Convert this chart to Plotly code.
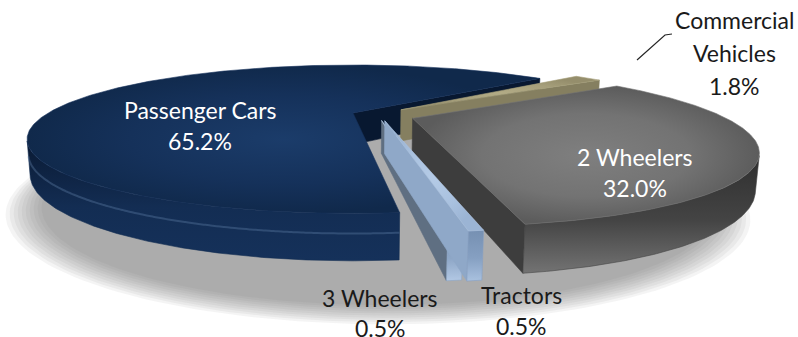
import numpy as np
import plotly.graph_objects as go

# ---------------------------------------------------------------- data
categories = ["Passenger Cars", "Commercial Vehicles", "2 Wheelers", "Tractors", "3 Wheelers"]
shares = [65.2, 1.8, 32.0, 0.5, 0.5]          # percent of total, clockwise order
label_lines = {
    "Passenger Cars": ["Passenger Cars"],
    "Commercial Vehicles": ["Commercial", "Vehicles"],
    "2 Wheelers": ["2 Wheelers"],
    "Tractors": ["Tractors"],
    "3 Wheelers": ["3 Wheelers"],
}
title_text = "es 2015: 2,072,390"

# ---------------------------------------------------------------- styling
W, H = 798, 337
FONT = "Lato"

# how far each slice is pulled out of the pie (disk units, x right / y away)
explode = {
    "Passenger Cars": (0.0, 0.0),
    "Commercial Vehicles": (0.16, 0.05),
    "2 Wheelers": (0.19, -0.08),
    "Tractors": (0.10, -0.115),
    "3 Wheelers": (0.09, -0.11),
}
palette = {
    "Passenger Cars":      dict(top="#15315a", c0="#1b3c6a", c1="#10294b", side="#132d53", low="#0a1a33",
                                wall="#081830", rim="rgba(95,125,165,0.38)"),
    "Commercial Vehicles": dict(top="#a69f7b", c0="#b2ab86", c1="#958e6c", side="#8a8464", low="#77714f",
                                wall="#857f60", rim=None),
    "2 Wheelers":          dict(top="#737373", c0="#7f7f7f", c1="#5c5c5c", side="#444444", low="#2f2f2f",
                                wall="#3d3d3d", rim=None),
    "Tractors":            dict(top="#a9c1df", c0="#b5cbe6", c1="#9bb4d4", side="#86a0c2", low="#7690b2",
                                wall="#8fa8c8", rim=None),
    "3 Wheelers":          dict(top="#b2c8e4", c0="#bcd0ea", c1="#a3bbda", side="#8da6c6", low="#7a94b6",
                                wall="#5f6f82", rim=None),
}
label_pos = {   # centre x, first-line y, line step (pixels), colour
    "Passenger Cars": (200, 110, 31, "white"),
    "Commercial Vehicles": (734, 20, 33, "#1a1a1a"),
    "2 Wheelers": (635, 157, 31, "white"),
    "Tractors": (521, 295, 31, "#1a1a1a"),
    "3 Wheelers": (380, 298, 30, "#1a1a1a"),
}

# ---------------------------------------------------------------- camera
PHI = np.radians(12.3)      # elevation of the viewpoint
DIST = 2.765                # camera distance in pie radii
SCALE = 843.0
CX, CY = 353.0, 113.0       # where the pie centre lands on the page
THICK = 0.107
START = 275.7               # angle (deg, counter-clockwise from +x) where the first slice begins
cphi, sphi = np.cos(PHI), np.sin(PHI)
CAM = np.array([0.0, -DIST * cphi, DIST * sphi])


def proj(X, Y, Z):
    X = np.asarray(X, float)
    Y = np.asarray(Y, float)
    Z = np.asarray(Z, float) + 0 * X
    depth = Y * cphi + DIST - Z * sphi
    up = Y * sphi + Z * cphi
    return CX + SCALE * X / depth, CY - SCALE * up / depth


def poly(xs, ys, color, grad=None):
    xs = np.append(xs, xs[0])
    ys = np.append(ys, ys[0])
    tr = go.Scatter(x=xs, y=ys, mode="lines", fill="toself", fillcolor=color,
                    line=dict(width=0.6, color=color), hoverinfo="skip", showlegend=False)
    if grad is not None:
        tr.update(fillgradient=grad)
    return tr


traces = []

# soft floor shadow, built from stacked translucent disks
ZSH = -0.2
t = np.linspace(0, 2 * np.pi, 240)
for r in np.linspace(1.04, 0.95, 10):
    sx, sy = proj(0.07 + 1.08 * r * np.cos(t), -0.07 + r * np.sin(t), ZSH)
    traces.append(go.Scatter(x=np.append(sx, sx[0]), y=np.append(sy, sy[0]), mode="lines",
                             fill="toself", fillcolor="rgba(110,110,110,0.075)",
                             line=dict(width=0), hoverinfo="skip", showlegend=False))

# slice geometry from the shares
slices = []
cum = 0.0
for cat, v in zip(categories, shares):
    a0 = np.radians(START - cum * 3.6)
    a1 = np.radians(START - (cum + v) * 3.6)
    cum += v
    ox, oy = explode[cat]
    mid = (a0 + a1) / 2
    arc = np.linspace(a1, a0, 60)
    # farthest point of the slice from the viewer decides the drawing order
    far = max(oy, np.max(oy + np.sin(arc))) * cphi + DIST
    slices.append(dict(cat=cat, v=v, a0=a0, a1=a1, ox=ox, oy=oy, key=far, mid=mid))

for s in sorted(slices, key=lambda d: -d["key"]):
    cat, a0, a1, ox, oy = s["cat"], s["a0"], s["a1"], s["ox"], s["oy"]
    col = palette[cat]
    n = max(6, int(np.degrees(a0 - a1) * 2))
    a = np.linspace(a1, a0, n)
    rx, ry = ox + np.cos(a), oy + np.sin(a)

    # radial walls (only those facing the camera)
    for ang, nrm in ((a0, (-np.sin(a0), np.cos(a0))), (a1, (np.sin(a1), -np.cos(a1)))):
        if nrm[0] * (CAM[0] - ox) + nrm[1] * (CAM[1] - oy) > 0:
            ex, ey = ox + np.cos(ang), oy + np.sin(ang)
            px, py = proj([ox, ex, ex, ox], [oy, ey, ey, oy], [0, 0, -THICK, -THICK])
            traces.append(poly(px, py, col["wall"]))

    # outer rim, split into the runs that face the camera
    vis = np.cos(a) * (CAM[0] - rx) + np.sin(a) * (CAM[1] - ry) > 0
    idx = np.flatnonzero(vis)
    if idx.size:
        runs = np.split(idx, np.flatnonzero(np.diff(idx) > 1) + 1)
        for run in runs:
            if run.size < 2:
                continue
            tx, ty = proj(rx[run], ry[run], 0.0)
            bx, by = proj(rx[run], ry[run], -THICK)
            traces.append(poly(np.concatenate([tx, bx[::-1]]), np.concatenate([ty, by[::-1]]),
                               col["side"],
                               grad=dict(type="vertical",
                                         colorscale=[[0, col["top"]], [0.45, col["side"]], [1, col["low"]]])))
            if col["rim"]:
                hx, hy = proj(rx[run], ry[run], -0.42 * THICK)
                traces.append(go.Scatter(x=hx, y=hy, mode="lines",
                                         line=dict(color=col["rim"], width=2, shape="spline"),
                                         hoverinfo="skip", showlegend=False))

    # top face
    px, py = proj(np.concatenate([[ox], rx]), np.concatenate([[oy], ry]), 0.0)
    traces.append(poly(px, py, col["top"],
                       grad=dict(type="radial", colorscale=[[0, col["c0"]], [0.6, col["top"]], [1, col["c1"]]])))

# leader line for the commercial-vehicle label
lbx, lby, _, _ = label_pos["Commercial Vehicles"]
traces.append(go.Scatter(x=[lbx - 97, lbx - 69, lbx - 62], y=[lby + 40, lby + 15, lby + 14],
                         mode="lines", line=dict(color="#262626", width=1.2),
                         hoverinfo="skip", showlegend=False))

fig = go.Figure(traces)

ann = [dict(x=-1, y=22, xref="x", yref="y", text=title_text, showarrow=False, xanchor="left",
            yanchor="middle", font=dict(family=FONT, size=27, color="#111111"))]
for cat, v in zip(categories, shares):
    x0, y0, step, fc = label_pos[cat]
    lines = label_lines[cat] + [f"{v:.1f}%"]
    for i, ln in enumerate(lines):
        ann.append(dict(x=x0, y=y0 + i * step, xref="x", yref="y", text=ln, showarrow=False,
                        xanchor="center", yanchor="middle",
                        font=dict(family=FONT, size=23, color=fc)))

fig.update_layout(
    width=W, height=H, autosize=False,
    margin=dict(l=0, r=0, t=0, b=0),
    paper_bgcolor="white", plot_bgcolor="white",
    xaxis=dict(range=[0, W], visible=False, fixedrange=True),
    yaxis=dict(range=[H, 0], visible=False, fixedrange=True),
    annotations=ann,
    showlegend=False,
)
fig.write_html("out.html")
